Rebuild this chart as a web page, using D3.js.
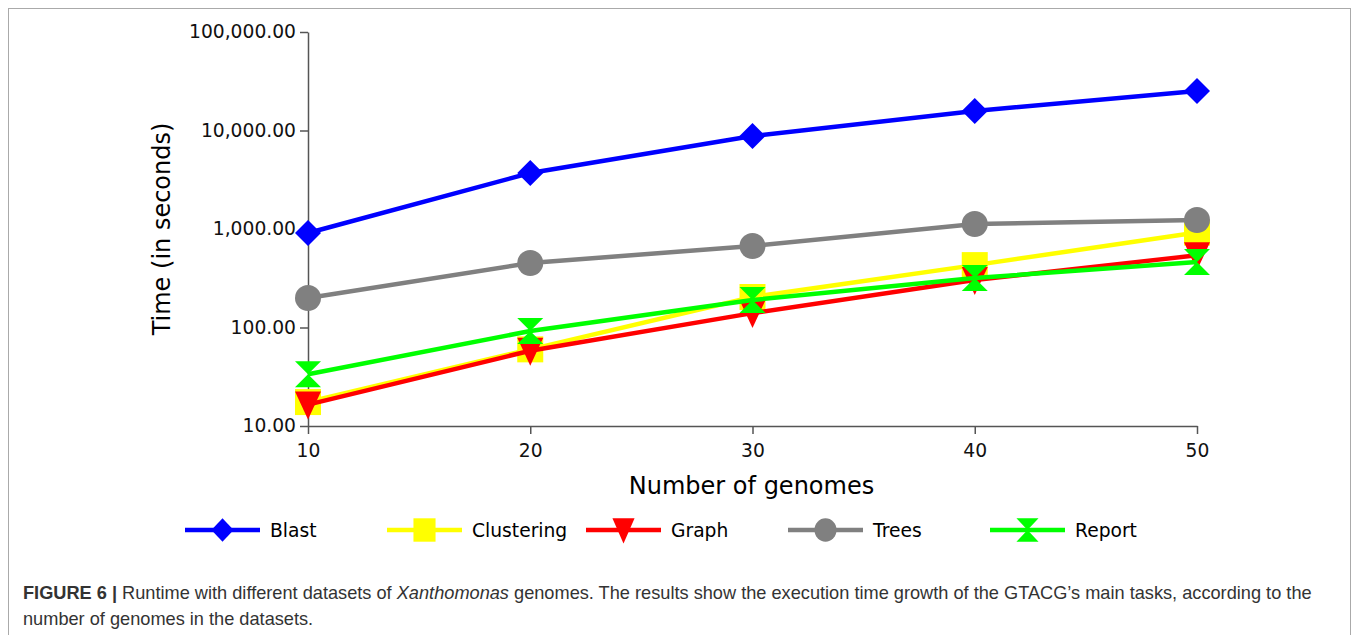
<!DOCTYPE html>
<html>
<head>
<meta charset="utf-8">
<script src="https://cdn.jsdelivr.net/npm/d3@7"></script>
<style>
    body { margin: 0; background: #fff; }
    .frame { position: absolute; left: 8px; top: 8px; width: 1341px; height: 640px; border: 1.5px solid #aaa; }
    .caption { position: absolute; left: 23px; top: 580px; width: 1300px; font-family: "Liberation Sans", Arial, sans-serif; font-size: 18.2px; line-height: 26px; color: #333; }
    svg { position: absolute; left: 0; top: 0; }
    .axis text { font-family: "DejaVu Sans", sans-serif; font-size: 18.7px; fill: #111; }
    .axis path, .axis line { stroke: #555; stroke-width: 1.5; }
</style>
</head>
<body>
<div class="frame"></div>
<div id="chart"></div>
<div class="caption"><b>FIGURE 6 |</b> Runtime with different datasets of <i>Xanthomonas</i> genomes. The results show the execution time growth of the GTACG’s main tasks, according to the number of genomes in the datasets.</div>
<script>
const genomes = [10, 20, 30, 40, 50];
const blast = [910, 3700, 8800, 15800, 25200];
const clustering = [17.5, 60, 204, 430, 920];
const graph = [16.5, 58, 140, 303, 540];
const trees = [199, 452, 672, 1124, 1234];
const report = [33.5, 92, 190, 318, 462];
const yTicks = [10, 100, 1000, 10000, 100000];

const series = [
    {name: 'Blast', values: blast, color: '#0000ff', symbol: 'diamond'},
    {name: 'Clustering', values: clustering, color: '#ffff00', symbol: 'square'},
    {name: 'Graph', values: graph, color: '#ff0000', symbol: 'triangleDown'},
    {name: 'Trees', values: trees, color: '#808080', symbol: 'circle'},
    {name: 'Report', values: report, color: '#00ff00', symbol: 'hourglass'}
];

const width = 1355;
const height = 635;
const margin = {top: 32, left: 308, right: 158, bottom: 209};
const chartWidth = width - margin.left - margin.right;
const chartHeight = height - margin.top - margin.bottom;

const svg = d3.select('#chart').append('svg')
    .attr('width', width)
    .attr('height', height);

const xScale = d3.scaleLinear()
    .domain([10, 50])
    .range([0, chartWidth]);

const yScale = d3.scaleLog()
    .domain([10, 100000])
    .range([chartHeight, 0]);

const fmt = d3.format(',.2f');

const container = svg.append('g')
    .attr('transform', `translate(${margin.left},${margin.top})`);

container.append('g')
    .classed('axis', true)
    .attr('transform', `translate(0,${chartHeight})`)
    .call(d3.axisBottom(xScale).tickValues(genomes).tickSize(8).tickSizeOuter(0).tickPadding(6))
    .call(g => g.selectAll('text').attr('dy', '0.9em'));

container.append('g')
    .classed('axis', true)
    .call(d3.axisLeft(yScale).tickValues(yTicks).tickFormat(fmt).tickSize(8).tickSizeOuter(0).tickPadding(4));

// axis titles
svg.append('text')
    .attr('transform', `translate(170,${margin.top + chartHeight / 2}) rotate(-90)`)
    .attr('text-anchor', 'middle')
    .style('font-family', 'DejaVu Sans, sans-serif')
    .style('font-size', '24px')
    .text('Time (in seconds)');

svg.append('text')
    .attr('x', margin.left + chartWidth / 2 - 1)
    .attr('y', 494)
    .attr('text-anchor', 'middle')
    .style('font-family', 'DejaVu Sans, sans-serif')
    .style('font-size', '24px')
    .text('Number of genomes');

// marker shapes, centred on 0,0
function markerPath(symbol) {
    const s = 13;
    switch (symbol) {
        case 'diamond': return `M0,${-s}L${s},0L0,${s}L${-s},0Z`;
        case 'square': return `M${-s},${-s}H${s}V${s}H${-s}Z`;
        case 'triangleDown': return `M${-s},${-s}H${s}L0,${s + 2}Z`;
        case 'hourglass': return `M${-s},${-s}H${s}L${-s},${s}H${s}Z`;
        default: return d3.symbol(d3.symbolCircle, Math.PI * s * s)();
    }
}

const line = d3.line()
    .x((d, i) => xScale(genomes[i]))
    .y(d => yScale(d));

const groups = container.selectAll('.series')
    .data(series)
    .enter().append('g')
    .classed('series', true);

groups.append('path')
    .attr('d', d => line(d.values))
    .attr('fill', 'none')
    .attr('stroke', d => d.color)
    .attr('stroke-width', 4.5);

groups.each(function(d) {
    d3.select(this).selectAll('.marker')
        .data(d.values)
        .enter().append('path')
        .classed('marker', true)
        .attr('transform', (v, i) => `translate(${xScale(genomes[i])},${yScale(v)})`)
        .attr('d', markerPath(d.symbol))
        .attr('fill', d.color);
});

// legend
const legendX = [185, 387, 586, 788, 990];
const legend = svg.selectAll('.legend')
    .data(series)
    .enter().append('g')
    .classed('legend', true)
    .attr('transform', (d, i) => `translate(${legendX[i]},530)`);

legend.append('line')
    .attr('x1', 0).attr('x2', 75)
    .attr('stroke', d => d.color)
    .attr('stroke-width', 4.5);

legend.append('path')
    .attr('transform', 'translate(37.5,0) scale(0.85,0.9)')
    .attr('d', d => markerPath(d.symbol))
    .attr('fill', d => d.color);

legend.append('text')
    .attr('x', 85)
    .attr('dy', '0.35em')
    .style('font-family', 'DejaVu Sans, sans-serif')
    .style('font-size', '18.7px')
    .text(d => d.name);
</script>
</body>
</html>
